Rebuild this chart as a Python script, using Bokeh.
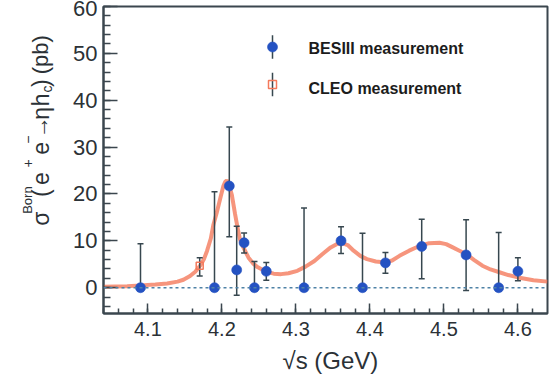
import math
from bokeh.plotting import figure
from bokeh.layouts import row
from bokeh.models import Label, SingleIntervalTicker, Range1d, Span, Title
from bokeh.embed import file_html
from bokeh.resources import INLINE

# BESIII cross sections: centre-of-mass energy (GeV), value (pb), errors (pb)
besiii_e = [4.090, 4.190, 4.210, 4.220, 4.230, 4.244, 4.260, 4.311,
            4.361, 4.390, 4.421, 4.470, 4.530, 4.574, 4.600]
besiii_sigma = [0.0, 0.0, 21.7, 3.8, 9.6, 0.0, 3.5, 0.0,
                10.0, 0.0, 5.3, 8.8, 7.0, 0.0, 3.5]
besiii_err_up = [9.4, 20.5, 12.6, 9.3, 2.1, 5.6, 1.9, 17.0,
                 3.0, 11.6, 2.2, 5.8, 7.5, 11.8, 2.9]
besiii_err_dn = [0.0, 0.0, 10.8, 5.4, 2.2, 0.0, 1.9, 0.0,
                 2.7, 0.0, 2.2, 6.9, 7.6, 0.0, 2.0]

# CLEO measurement
cleo_e = [4.170]
cleo_sigma = [4.7]
cleo_err_up = [1.7]
cleo_err_dn = [2.2]

# Fit curve sampled along sqrt(s)
fit_e = [4.040, 4.072, 4.090, 4.110, 4.126, 4.140, 4.148, 4.157, 4.164,
         4.171, 4.176, 4.180, 4.185, 4.1886, 4.193, 4.198, 4.202, 4.2045,
         4.2066, 4.209, 4.2133, 4.2178, 4.222, 4.2245, 4.229, 4.236,
         4.242, 4.248, 4.260, 4.270, 4.280, 4.290, 4.302, 4.313, 4.325,
         4.336, 4.347, 4.355, 4.362, 4.370, 4.378, 4.387, 4.396, 4.408,
         4.421, 4.430, 4.440, 4.453, 4.467, 4.480, 4.494, 4.503, 4.512,
         4.521, 4.530, 4.541, 4.552, 4.563, 4.575, 4.587, 4.600, 4.621,
         4.640]
fit_sigma = [0.2, 0.3, 0.5, 0.7, 0.9, 1.3, 1.7, 2.5, 3.4,
             4.8, 6.2, 7.9, 10.5, 13.5, 16.0, 19.2, 21.7, 22.6,
             22.9, 22.3, 19.9, 15.7, 12.1, 10.3, 8.6, 6.4,
             5.2, 4.4, 3.4, 3.0, 2.9, 3.1, 3.6, 4.5, 5.7,
             7.2, 8.6, 9.3, 9.5, 9.1, 7.9, 6.8, 6.1, 5.6,
             5.4, 5.8, 6.8, 7.9, 8.9, 9.5, 9.6, 9.3, 8.6,
             7.9, 7.2, 5.9, 4.7, 3.9, 3.3, 2.7, 2.2, 1.6,
             1.3]

x_ticks_interval = 0.1
y_ticks_interval = 10

# y-axis title pieces: text, font size, bold, baseline x, start y (panel pixels)
ytitle_pieces = [("σ", 23, False, 40, 275), ("Born", 13, False, 27, 260),
                 ("(", 23, False, 40, 239), ("e", 23, False, 40, 224),
                 ("+", 14, False, 27, 202), ("e", 23, False, 40, 186),
                 ("\u2212", 14, False, 27, 172), ("→", 22, True, 40, 165),
                 ("η", 23, False, 40, 142), ("h", 23, False, 40, 125),
                 ("c", 14, False, 46, 108), (")", 23, False, 40, 101),
                 ("(pb)", 22, False, 40, 85)]

# geometry (canvas pixels)
TITLE_W = 60
FL, FT, FW, FH = 103, 6, 444, 307
XR = (4.04, 4.64)
YR = (-5.5, 60.0)


def px(cx, cy):
    """Canvas pixel of the main panel -> data coordinates."""
    x = XR[0] + (cx - FL) / FW * (XR[1] - XR[0])
    y = YR[0] + (FT + FH - cy) / FH * (YR[1] - YR[0])
    return x, y


AXIS_COL = "#3b464e"
ERR_COL = "#37474f"
TEXT_COL = "#2b3136"
BLUE = "#2452c2"
SALMON = "#f47a5c"
FONT = "Liberation Sans"

p = figure(frame_width=FW, frame_height=FH, output_backend="svg",
           toolbar_location=None, x_range=Range1d(*XR), y_range=Range1d(*YR),
           min_border_left=FL - TITLE_W, min_border_top=FT, min_border_right=3,
           min_border_bottom=72)
p.background_fill_color = "white"
p.border_fill_color = "white"
p.outline_line_color = AXIS_COL
p.outline_line_width = 2
p.grid.visible = False

p.xaxis.ticker = SingleIntervalTicker(interval=x_ticks_interval, num_minor_ticks=5)
p.yaxis.ticker = SingleIntervalTicker(interval=y_ticks_interval, num_minor_ticks=5)
for ax in (p.xaxis[0], p.yaxis[0]):
    ax.axis_line_color = AXIS_COL
    ax.axis_line_width = 2
    ax.major_tick_line_color = AXIS_COL
    ax.minor_tick_line_color = AXIS_COL
    ax.major_tick_line_width = 1.5
    ax.minor_tick_line_width = 1.5
    ax.major_tick_out = 0
    ax.minor_tick_out = 0
    ax.major_label_text_font = FONT
    ax.major_label_text_color = TEXT_COL
p.xaxis.major_tick_in = 10
p.xaxis.minor_tick_in = 5
p.yaxis.major_tick_in = 14
p.yaxis.minor_tick_in = 7
p.xaxis.major_label_text_font_size = "20px"
p.yaxis.major_label_text_font_size = "22px"
p.xaxis.major_label_standoff = 8
p.yaxis.major_label_standoff = 6

# x-axis title below the tick labels
p.add_layout(Title(text="\u221As (GeV)", align="left", offset=179,
                   text_font=FONT, text_font_size="24px",
                   text_font_style="normal", text_color=TEXT_COL,
                   standoff=12), "below")

# zero line
p.add_layout(Span(location=0, dimension="width", line_color="#4f82a6",
                  line_dash="3 3", line_width=1.5))

# fit curve
p.line(fit_e, fit_sigma, line_color=SALMON, line_width=4, line_alpha=0.8)

# BESIII error bars and points
b_hi = [v + u for v, u in zip(besiii_sigma, besiii_err_up)]
b_lo = [v - d for v, d in zip(besiii_sigma, besiii_err_dn)]
p.segment(besiii_e, b_lo, besiii_e, b_hi, line_color=ERR_COL, line_width=1.5)
p.scatter(besiii_e, b_hi, marker="dash", size=6, line_color=ERR_COL, line_width=1.5)
p.scatter(besiii_e, b_lo, marker="dash", size=6, line_color=ERR_COL, line_width=1.5)
p.scatter(besiii_e, besiii_sigma, size=10, fill_color=BLUE, line_color=BLUE,
          line_alpha=0.6)

# CLEO point
c_hi = [v + u for v, u in zip(cleo_sigma, cleo_err_up)]
c_lo = [v - d for v, d in zip(cleo_sigma, cleo_err_dn)]
p.segment(cleo_e, c_lo, cleo_e, c_hi, line_color=ERR_COL, line_width=1.5)
p.scatter(cleo_e, c_hi, marker="dash", size=6, line_color=ERR_COL, line_width=1.5)
p.scatter(cleo_e, c_lo, marker="dash", size=6, line_color=ERR_COL, line_width=1.5)
p.scatter(cleo_e, cleo_sigma, marker="square", size=7, fill_color=None,
          line_color=SALMON, line_width=1.5)

# legend
lx, ly1 = px(272, 46.5)
_, ly2 = px(272, 84)
dy = 2.5
p.segment([lx, lx], [ly1 - dy, ly2 - dy], [lx, lx], [ly1 + dy, ly2 + dy],
          line_color=ERR_COL, line_width=1.5)
p.scatter([lx], [ly1], size=10, fill_color=BLUE, line_color=BLUE, line_alpha=0.6)
p.scatter([lx], [ly2], marker="square", size=8, fill_color=None,
          line_color=SALMON, line_width=1.5)
tx, ty1 = px(308, 48)
_, ty2 = px(308, 88)
for t, ty in (("BESIII measurement", ty1), ("CLEO measurement", ty2)):
    p.add_layout(Label(x=tx, y=ty, text=t, text_font=FONT,
                       text_font_size="16px", text_font_style="bold",
                       text_color="#1c1c1c", text_baseline="middle",
                       text_align="left"))

# side panel carrying the rotated y-axis title (pixel coordinates)
side = figure(width=TITLE_W, height=FT + FH + 72, output_backend="svg",
              toolbar_location=None, x_axis_type=None, y_axis_type=None,
              x_range=Range1d(0, TITLE_W), y_range=Range1d(FT + FH + 72, 0),
              min_border=0)
side.outline_line_color = None
side.grid.visible = False
side.background_fill_color = "white"
side.border_fill_color = "white"
for txt, size, bold, bx, sy in ytitle_pieces:
    side.add_layout(Label(x=bx, y=sy, text=txt, angle=math.pi / 2,
                          text_font=FONT, text_font_size=f"{size}px",
                          text_font_style="bold" if bold else "normal",
                          text_color=TEXT_COL, text_baseline="alphabetic",
                          text_align="left"))

layout = row(side, p, spacing=0)
open("out.html", "w").write(file_html(layout, INLINE))
